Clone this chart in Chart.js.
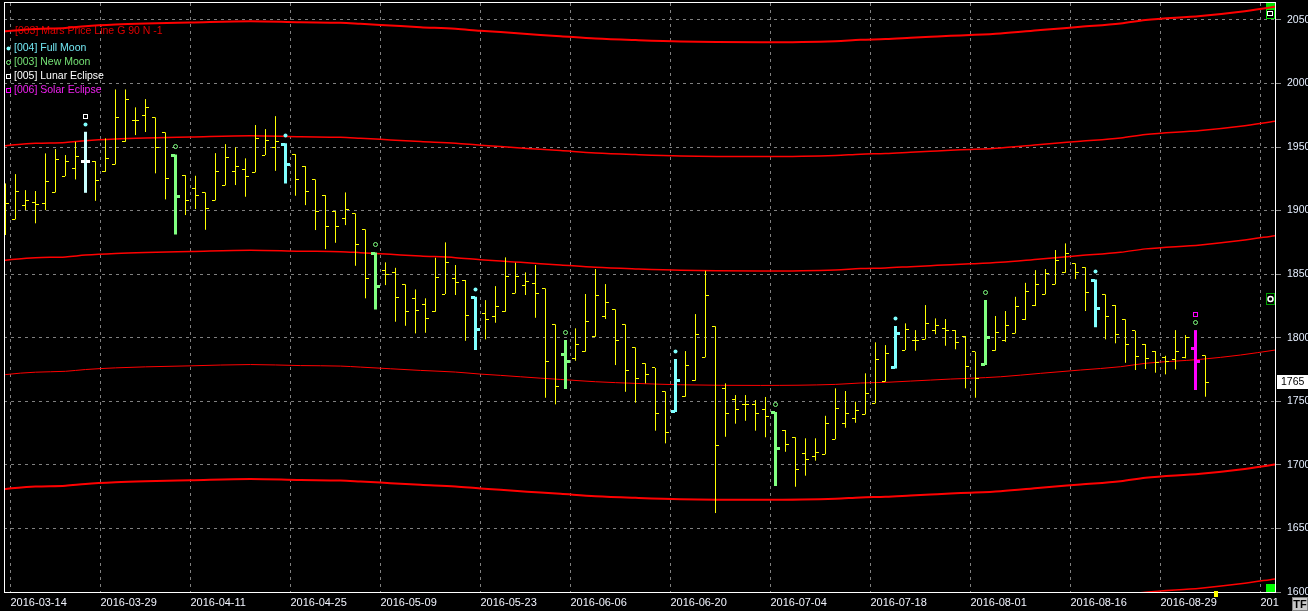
<!DOCTYPE html>
<html>
<head>
<meta charset="utf-8">
<style>
html,body{margin:0;padding:0;background:#000;overflow:hidden}
#c{display:block}
</style>
<script src="https://cdn.jsdelivr.net/npm/chart.js@4.4.1/dist/chart.umd.min.js"></script>
</head>
<body>
<canvas id="c" width="1308" height="611"></canvas>
<script>
// ---------------- data ----------------
const dateBarIdx = [1, 10, 19, 29, 38, 48, 57, 67, 77, 87, 97, 107, 116, 126];
const dateLabels = ['2016-03-14','2016-03-29','2016-04-11','2016-04-25','2016-05-09','2016-05-23','2016-06-06',
                    '2016-06-20','2016-07-04','2016-07-18','2016-08-01','2016-08-16','2016-08-29','201'];
const priceTicks = [1600,1650,1700,1750,1800,1850,1900,1950,2000,2050];

const openP = [
 1880.8,1893.1,1904.1,1906.5,1905.7,1914.3,1927.1,1933.2,1938.9,1938.9,
 1930.8,1936.3,1954.7,1971.2,1975.1,1973.3,1961.5,1943.7,1927.9,1917.5,
 1914.3,1908.0,1919.8,1930.8,1932.4,1930.1,1943.7,1949.4,1952.3,1944.4,
 1935.0,1924.5,1912.0,1899.6,1893.9,1897.8,1885.2,1866.6,1853.0,1851.4,
 1842.0,1830.7,1826.3,1820.7,1834.4,1846.7,1845.4,1832.0,1819.2,1816.8,
 1821.0,1834.9,1841.2,1843.0,1838.8,1810.5,1787.2,1783.8,1789.3,1801.1,
 1816.8,1822.3,1810.5,1792.4,1779.9,1776.2,1757.8,1741.8,1754.1,1766.7,
 1784.6,1809.0,1760.0,1751.5,1747.6,1747.6,1743.7,1741.3,1727.4,1721.7,
 1709.1,1706.7,1708.3,1720.1,1732.7,1736.6,1739.7,1748.4,1765.9,1776.4,
 1790.3,1798.2,1798.7,1805.3,1807.4,1806.0,1801.1,1789.0,1778.8,1790.3,
 1797.6,1803.4,1814.5,1825.5,1834.1,1842.0,1851.4,1858.5,1855.4,1845.4,
 1834.1,1825.7,1814.5,1805.5,1795.0,1789.5,1784.3,1782.5,1784.3,1791.6,
 1786.1];
const highP = [
 1921.4,1928.7,1916.1,1915.4,1945.0,1948.4,1943.7,1954.1,1962.0,1938.9,
 1956.8,1995.3,1995.3,1981.2,1987.7,1973.3,1961.5,1944.2,1927.9,1927.4,
 1914.3,1945.2,1952.3,1949.7,1941.1,1967.3,1964.1,1974.3,1952.9,1944.4,
 1935.0,1924.5,1912.2,1899.6,1914.3,1897.8,1885.2,1867.1,1859.3,1855.0,
 1842.0,1838.0,1831.0,1862.9,1875.0,1857.2,1845.4,1832.2,1829.6,1840.6,
 1863.2,1859.0,1851.4,1857.2,1838.8,1810.5,1798.2,1807.4,1834.4,1854.0,
 1842.2,1822.3,1810.5,1792.4,1779.9,1776.2,1757.8,1783.2,1789.5,1818.6,
 1852.7,1809.0,1764.1,1754.9,1754.9,1751.0,1753.4,1741.6,1727.4,1721.7,
 1720.9,1720.9,1738.6,1760.2,1758.1,1749.7,1772.0,1796.4,1794.2,1809.2,
 1811.3,1806.0,1825.7,1815.2,1814.7,1806.0,1801.3,1789.0,1829.6,1817.1,
 1821.0,1832.2,1843.2,1853.2,1854.0,1869.0,1874.2,1858.5,1855.4,1845.9,
 1834.1,1825.7,1814.5,1805.5,1795.0,1789.5,1785.8,1806.0,1802.1,1806.0,
 1786.1];
const lowP = [
 1880.8,1893.1,1900.4,1890.0,1900.4,1914.3,1927.1,1924.5,1914.0,1907.7,
 1930.5,1936.3,1954.1,1959.4,1961.8,1929.3,1908.8,1881.3,1896.5,1901.2,
 1884.9,1908.0,1919.8,1920.1,1910.9,1930.1,1943.7,1931.3,1921.4,1911.7,
 1904.3,1884.7,1869.7,1874.7,1888.6,1856.6,1831.0,1822.3,1841.4,1812.6,
 1809.4,1803.4,1803.9,1820.4,1834.4,1833.6,1797.6,1790.3,1798.7,1811.8,
 1820.4,1834.9,1833.6,1815.7,1752.8,1747.6,1759.6,1781.9,1789.0,1800.8,
 1814.7,1778.5,1757.5,1748.9,1764.1,1726.9,1716.9,1741.6,1753.6,1766.2,
 1784.6,1662.1,1722.1,1732.4,1734.7,1726.9,1721.7,1683.4,1710.3,1682.8,
 1691.5,1703.3,1708.3,1720.1,1729.2,1733.1,1739.7,1748.4,1765.4,1775.9,
 1790.3,1789.8,1798.7,1802.7,1793.7,1790.9,1760.2,1752.8,1778.5,1789.8,
 1796.8,1803.4,1813.9,1824.9,1834.1,1842.0,1851.1,1846.1,1821.0,1808.2,
 1798.7,1795.6,1780.3,1774.6,1775.4,1772.5,1771.2,1775.1,1783.8,1758.9,
 1753.6];
const closeP = [
 1905.7,1915.1,1908.0,1904.9,1923.0,1940.3,1938.7,1942.6,1938.9,1923.8,
 1941.1,1973.3,1987.5,1971.2,1981.4,1950.0,1925.3,1911.2,1908.0,1912.0,
 1901.7,1930.8,1941.9,1935.0,1926.9,1956.8,1954.9,1954.7,1936.3,1924.5,
 1915.1,1899.2,1887.4,1887.3,1901.0,1873.4,1846.7,1840.4,1850.1,1831.8,
 1820.7,1821.5,1814.9,1847.5,1859.3,1843.6,1817.6,1806.6,1814.5,1824.4,
 1848.0,1848.3,1844.3,1834.9,1781.4,1762.0,1781.4,1794.8,1813.1,1833.0,
 1827.8,1798.2,1774.3,1768.1,1771.4,1740.5,1725.6,1766.5,1778.3,1802.7,
 1833.6,1715.4,1740.5,1743.7,1747.6,1740.5,1738.4,1713.0,1716.4,1696.5,
 1704.4,1709.9,1732.7,1744.5,1740.5,1742.9,1756.3,1782.5,1787.7,1803.4,
 1806.8,1798.2,1811.5,1809.7,1805.3,1796.4,1777.5,1768.1,1800.3,1804.2,
 1809.4,1824.9,1836.2,1842.2,1850.6,1861.1,1866.4,1851.1,1835.7,1823.1,
 1816.5,1802.9,1794.8,1785.0,1784.0,1780.6,1781.7,1789.0,1800.0,1781.7,
 1765.0];

const fullMoonIdx     = [8, 28, 47, 67, 89, 109];
const newMoonIdx      = [17, 37, 56, 77, 98, 119];
const lunarEclipseIdx = [8];
const solarEclipseIdx = [119];

const marsIdx  = [-0.15,0,3,6,8,11,14,18.5,24.5,29.5,33.5,35.5,38.5,41.5,45,47.5,49.5,51.5,53.5,55.5,
                  59,63,67.5,75.5,83,85.5,88,90.5,92.5,94.5,96.5,99.5,103.5,107.5,111.5,114,119.5,123.5,126.95];
const marsBase = [1770.8,1771.0,1772.9,1773.6,1775.0,1776.3,1777.1,1777.9,1778.9,1778.1,1777.7,1776.9,1775.6,1774.3,
                  1773.0,1771.4,1770.4,1769.3,1768.2,1767.2,1765.4,1764.1,1763.0,1762.5,1763.3,1764.4,1764.9,1765.9,
                  1766.7,1767.5,1768.1,1769.3,1772.0,1774.6,1777.2,1779.9,1783.0,1786.4,1790.3];
const marsHarmonics = [-180, -90, 0, 90, 180, 270];
const lastPrice = 1765;
const timeMarkerIdx = 121;
const axisFlags = [{value: 2057, kind: 'square'}, {value: 1830.4, kind: 'circle'}, {value: 1603.1, kind: 'solid'}];

const marsLabel = '[003] Mars Price Line G 90 N -1';
const legendItems = [
  {text: '[004] Full Moon',     color: '#72e6f2', marker: 'dot',    mcolor: '#80ffff'},
  {text: '[003] New Moon',      color: '#74e074', marker: 'circle', mcolor: '#80ff80'},
  {text: '[005] Lunar Eclipse', color: '#ffffff', marker: 'square', mcolor: '#ffffff'},
  {text: '[006] Solar Eclipse', color: '#f020f0', marker: 'square', mcolor: '#ff00ff'}
];

// ---------------- styling helpers ----------------
const FONT = '"Liberation Sans", Arial, Helvetica, sans-serif';
Chart.defaults.font.family = FONT;
Chart.defaults.font.size = 11;

const N = openP.length;
const fullSet = new Set(fullMoonIdx), newSet = new Set(newMoonIdx),
      lunarSet = new Set(lunarEclipseIdx), solarSet = new Set(solarEclipseIdx);
function kindOf(i) {
  if (solarSet.has(i)) return 'solar';
  if (lunarSet.has(i)) return 'lunar';
  if (fullSet.has(i)) return 'full';
  if (newSet.has(i)) return 'new';
  return 'plain';
}
const barColor  = {plain: '#ffff00', full: '#80ffff', lunar: '#c8ffff', new: '#80ff80', solar: '#ff00ff'};
const tickColor = {plain: '#ffff00', full: '#80ffff', lunar: '#ffffff', new: '#80ff80', solar: '#ff00ff'};

function mk(w, h, draw) {
  const c = document.createElement('canvas'); c.width = w; c.height = h;
  const g = c.getContext('2d'); draw(g); return c;
}
const tickImgs = {};
function tickImage(i, side) {
  const k = kindOf(i) + side;
  if (!tickImgs[k]) {
    const kind = kindOf(i), col = tickColor[kind];
    tickImgs[k] = kind === 'plain'
      ? mk(7, 1, g => { g.fillStyle = col; g.fillRect(side === 'open' ? 0 : 4, 0, 3, 1); })
      : mk(11, 3, g => { g.fillStyle = col; g.fillRect(side === 'open' ? 1 : 6, 0, 4, 3); });
  }
  return tickImgs[k];
}
const fullMoonImg = mk(7, 20, g => { g.fillStyle = '#80ffff'; g.beginPath(); g.arc(3.5, 2.5, 2, 0, Math.PI * 2); g.fill(); });
const newMoonImg  = mk(9, 20, g => { g.strokeStyle = '#80ff80'; g.lineWidth = 1; g.beginPath(); g.arc(4.5, 2.5, 2, 0, Math.PI * 2); g.stroke(); });
const lunarImg    = mk(7, 36, g => { g.strokeStyle = '#ffffff'; g.lineWidth = 1; g.strokeRect(1.5, 0.5, 4, 4); });
const solarImg    = mk(7, 37, g => { g.strokeStyle = '#ff00ff'; g.lineWidth = 1; g.strokeRect(1.5, 0.5, 4, 4); });

const idx = Array.from({length: N}, (_, i) => i);
const marsWidths = {'-180': 1.5, '-90': 2, '0': 1, '90': 1.5, '180': 1.5, '270': 2};

const datasets = [];
marsHarmonics.forEach(h => {
  datasets.push({
    type: 'line', label: 'Mars ' + h,
    data: marsIdx.map((x, j) => ({x, y: marsBase[j] + h})),
    borderColor: '#ff0000', borderWidth: marsWidths[String(h)], pointRadius: 0,
    tension: 0.3, cubicInterpolationMode: 'monotone', order: 6, clip: 0
  });
});
// high-low wicks: one line dataset per bar colour, segments separated by gaps
['plain', 'full', 'lunar', 'new', 'solar'].forEach(kind => {
  const pts = [];
  idx.filter(i => kindOf(i) === kind).forEach(i => {
    pts.push({x: i, y: lowP[i]}, {x: i, y: highP[i]}, {x: i, y: null});
  });
  datasets.push({
    type: 'line', label: 'wick ' + kind, data: pts,
    borderColor: barColor[kind], borderWidth: kind === 'plain' ? 1 : 3,
    borderCapStyle: 'butt', pointRadius: 0, tension: 0, spanGaps: false,
    order: kind === 'plain' ? 4 : 3, clip: 0
  });
});
['open', 'close'].forEach(side => {
  const src = side === 'open' ? openP : closeP;
  datasets.push({
    type: 'scatter', label: side,
    data: idx.map(i => ({x: i, y: src[i]})),
    pointStyle: c => (c.raw ? tickImage(c.raw.x, side) : 'circle'),
    pointRadius: 3, pointHoverRadius: 3, pointBorderWidth: 0, order: 2, clip: 0
  });
});
[[fullMoonIdx, fullMoonImg, 'Full Moon'], [newMoonIdx, newMoonImg, 'New Moon'],
 [lunarEclipseIdx, lunarImg, 'Lunar Eclipse'], [solarEclipseIdx, solarImg, 'Solar Eclipse']].forEach(([arr, img, name]) => {
  datasets.push({
    type: 'scatter', label: name,
    data: arr.map(i => ({x: i, y: highP[i]})),
    pointStyle: img, pointRadius: 3, pointHoverRadius: 3, pointBorderWidth: 0, order: 1, clip: 0
  });
});

// ---------------- decorations plugin ----------------
const decor = {
  id: 'decor',
  beforeDraw(chart) { chart.ctx.imageSmoothingEnabled = false; },
  beforeDatasetsDraw(chart) {
    const {ctx, chartArea: a, scales: {y}} = chart;
    ctx.save();
    ctx.textBaseline = 'middle';
    ctx.textAlign = 'left';
    ctx.font = '10.5px ' + FONT;
    ctx.fillStyle = '#e00000';
    ctx.fillText(marsLabel, a.left + 11, a.top + 28);
    legendItems.forEach((it, k) => {
      const cy = a.top + 45.5 + k * 14;
      const mx = a.left + 4.5;
      ctx.fillStyle = it.mcolor; ctx.strokeStyle = it.mcolor; ctx.lineWidth = 1;
      if (it.marker === 'dot') { ctx.beginPath(); ctx.arc(mx, cy, 2, 0, Math.PI * 2); ctx.fill(); }
      else if (it.marker === 'circle') { ctx.beginPath(); ctx.arc(mx, cy, 2, 0, Math.PI * 2); ctx.stroke(); }
      else { ctx.strokeRect(Math.round(mx) - 2.5, Math.round(cy) - 2.5, 4, 4); }
      ctx.fillStyle = it.color;
      ctx.fillText(it.text, a.left + 10, cy);
    });
    axisFlags.forEach(f => {
      const cy = Math.round(y.getPixelForValue(f.value));
      const x0 = a.right - 9;
      if (f.kind === 'square') {
        ctx.fillStyle = '#00e000'; ctx.fillRect(x0, cy - 8, 9, 16);
        ctx.fillStyle = '#000'; ctx.fillRect(x0 + 1, cy - 1, 7, 8);
        ctx.strokeStyle = '#fff'; ctx.lineWidth = 1; ctx.strokeRect(x0 + 1.5, cy + 0.5, 5, 4);
      } else if (f.kind === 'circle') {
        ctx.fillStyle = '#00a000'; ctx.fillRect(x0, cy - 6, 9, 12);
        ctx.fillStyle = '#000'; ctx.fillRect(x0 + 1, cy - 5, 7, 10);
        ctx.strokeStyle = '#fff'; ctx.lineWidth = 1.5; ctx.beginPath(); ctx.arc(x0 + 4.5, cy, 2.5, 0, Math.PI * 2); ctx.stroke();
      } else {
        ctx.fillStyle = '#00ff00'; ctx.fillRect(x0, cy - 4, 9, 8);
      }
    });
    ctx.restore();
  },
  afterDraw(chart) {
    const {ctx, chartArea: a, scales: {x, y}} = chart;
    ctx.save();
    ctx.strokeStyle = '#ffffff'; ctx.lineWidth = 1;
    ctx.beginPath();
    ctx.moveTo(a.left + 0.5, a.top - 1); ctx.lineTo(a.left + 0.5, a.bottom);
    ctx.moveTo(a.left, a.top - 0.5); ctx.lineTo(a.right + 1, a.top - 0.5);
    ctx.stroke();
    const tx = Math.round(x.getPixelForValue(timeMarkerIdx));
    ctx.fillStyle = '#ffff00'; ctx.fillRect(tx - 2, a.bottom - 1, 4, 6);
    const py = Math.round(y.getPixelForValue(lastPrice));
    ctx.fillStyle = '#ffffff'; ctx.fillRect(a.right + 2, py - 7, 40, 14);
    ctx.fillStyle = '#000000'; ctx.font = '10.5px ' + FONT; ctx.textBaseline = 'middle'; ctx.textAlign = 'left';
    ctx.fillText(String(lastPrice), a.right + 6, py + 0.5);
    ctx.fillStyle = '#c8c8c8'; ctx.fillRect(a.right + 17, a.bottom + 5, 16, 14);
    ctx.strokeStyle = '#808080'; ctx.strokeRect(a.right + 17.5, a.bottom + 5.5, 15, 13);
    ctx.fillStyle = '#000000'; ctx.font = 'bold 11px ' + FONT; ctx.textAlign = 'center';
    ctx.fillText('TF', a.right + 25, a.bottom + 12.5);
    ctx.restore();
  }
};

new Chart(document.getElementById('c'), {
  type: 'scatter',
  data: {datasets},
  options: {
    responsive: false, animation: false, devicePixelRatio: 1, events: [],
    layout: {padding: {left: 4, top: 3, right: 0, bottom: 0}, autoPadding: false},
    plugins: {legend: {display: false}, tooltip: {enabled: false}, title: {display: false}},
    scales: {
      x: {
        type: 'linear', min: -0.15, max: 126.95, offset: false, bounds: 'data',
        grid: {offset: false, color: '#808080', lineWidth: 1, drawTicks: false},
        border: {display: true, color: '#ffffff', width: 1, dash: [3, 4]},
        ticks: {align: 'start', padding: 4, autoSkip: false, maxRotation: 0, minRotation: 0,
                color: '#f2f5ff', font: {size: 11}, callback: (v, i) => dateLabels[i]},
        afterBuildTicks: s => { s.ticks = dateBarIdx.map(i => ({value: i - 0.5})); },
        afterFit: s => { s.height = 19; s.paddingLeft = 0; s.paddingRight = 0; s.paddingTop = 0; s.paddingBottom = 0; }
      },
      y: {
        type: 'linear', position: 'right', min: 1600, max: 2063.3, beginAtZero: false, bounds: 'data',
        grid: {color: '#808080', lineWidth: 1, drawTicks: true, tickLength: 6, tickColor: '#8c8c8c', tickWidth: 1},
        border: {display: true, color: '#ffffff', width: 1, dash: [3, 4]},
        ticks: {padding: 6, color: '#e6efff', font: {size: 10.5}, callback: v => String(v)},
        afterBuildTicks: s => { s.ticks = priceTicks.map(v => ({value: v})); },
        afterFit: s => { s.width = 33; s.paddingLeft = 0; s.paddingRight = 0; s.paddingTop = 0; s.paddingBottom = 0; }
      }
    }
  },
  plugins: [decor]
});
</script>
</body>
</html>
